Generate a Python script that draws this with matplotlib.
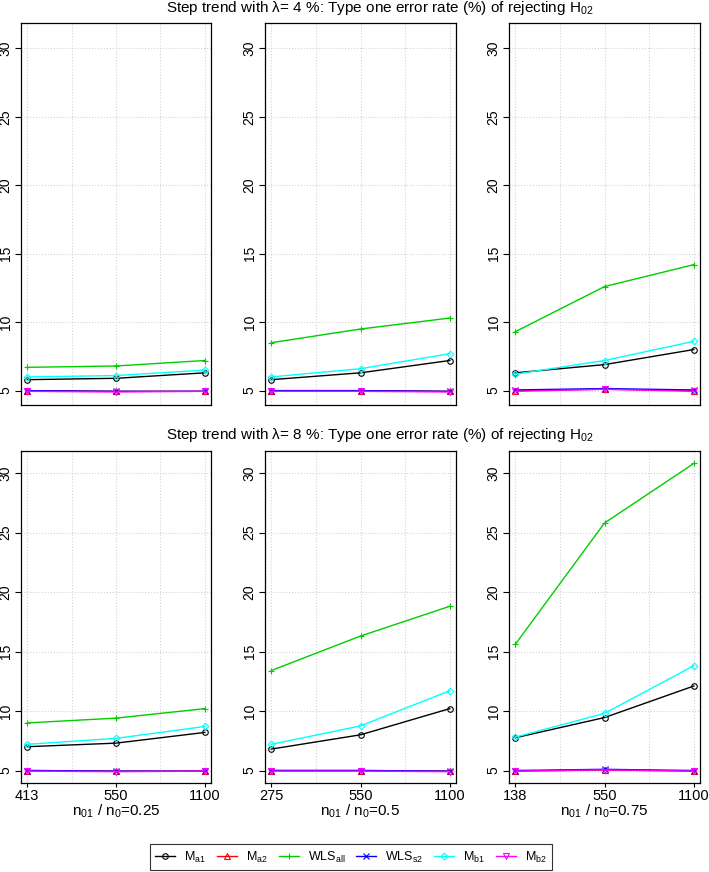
"""
Type one error rate of rejecting H02 under a step trend, two trend sizes x three ratios.
"""
import matplotlib
matplotlib.use("Agg")
import matplotlib.pyplot as plt

plt.rcParams["font.family"] = ["Liberation Sans", "DejaVu Sans"]
plt.rcParams["mathtext.fontset"] = "custom"
plt.rcParams["mathtext.rm"] = "Liberation Sans"
plt.rcParams["mathtext.it"] = "Liberation Sans:italic"
plt.rcParams["mathtext.default"] = "regular"

# methods, in drawing order
methods = ["M$_{a1}$", "M$_{a2}$", "WLS$_{all}$", "WLS$_{s2}$", "M$_{b1}$", "M$_{b2}$"]
colors = ["black", "red", "#00CD00", "blue", "cyan", "magenta"]
markers = ["o", "^", "+", "x", "D", "v"]

ratios = ["0.25", "0.5", "0.75"]
n_labels = [["413", "550", "1100"], ["275", "550", "1100"], ["138", "550", "1100"]]
lambdas = ["4", "8"]

# rows = methods (Ma1, Ma2, WLSall, WLSs2, Mb1, Mb2), cols = sample sizes
lam4_r025 = [[5.8, 5.9, 6.3], [5.0, 4.95, 4.95], [6.7, 6.8, 7.2],
             [5.0, 4.95, 4.95], [6.0, 6.1, 6.5], [4.95, 4.9, 4.95]]
lam4_r050 = [[5.8, 6.3, 7.2], [5.0, 5.0, 4.95], [8.5, 9.5, 10.3],
             [5.0, 5.0, 4.95], [6.0, 6.6, 7.7], [4.95, 4.95, 4.9]]
lam4_r075 = [[6.3, 6.9, 8.0], [5.0, 5.1, 5.0], [9.3, 12.6, 14.2],
             [5.05, 5.15, 5.05], [6.2, 7.2, 8.6], [4.95, 5.1, 4.95]]
lam8_r025 = [[7.0, 7.3, 8.2], [5.0, 4.95, 4.95], [9.0, 9.4, 10.2],
             [5.0, 4.95, 4.95], [7.2, 7.7, 8.7], [4.95, 4.9, 4.95]]
lam8_r050 = [[6.8, 8.0, 10.2], [5.0, 5.0, 4.95], [13.4, 16.3, 18.8],
             [5.0, 5.0, 4.95], [7.2, 8.75, 11.7], [4.95, 4.95, 4.9]]
lam8_r075 = [[7.75, 9.45, 12.1], [4.95, 5.05, 4.95], [15.6, 25.8, 30.8],
             [5.0, 5.1, 5.0], [7.8, 9.8, 13.8], [4.95, 5.05, 4.95]]

panels = [[lam4_r025, lam4_r050, lam4_r075], [lam8_r025, lam8_r050, lam8_r075]]

W, H = 709, 872
fig = plt.figure(figsize=(W / 100, H / 100), dpi=100)

col_x = [(21, 211), (265, 456), (509, 700)]
row_y = [(23, 405), (451, 783)]
title_y = [8, 435]

x = [1, 2, 3]
handles = []
for r in range(2):
    for c in range(3):
        x0, x1 = col_x[c]
        y0, y1 = row_y[r]
        ax = fig.add_axes([x0 / W, 1 - y1 / H, (x1 - x0) / W, (y1 - y0) / H])
        for m, vals in enumerate(panels[r][c]):
            h, = ax.plot(x, vals, color=colors[m], marker=markers[m],
                         markersize=3.4 if markers[m] == "D" else 4.0,
                         markerfacecolor="none", markeredgewidth=0.8,
                         linewidth=1.0, label=methods[m])
            if r == 0 and c == 0:
                handles.append(h)
        ax.set_xlim(0.93, 3.07)
        ax.set_ylim(3.95, 31.85)
        ax.set_yticks([5, 10, 15, 20, 25, 30])
        ax.set_yticklabels(["5", "10", "15", "20", "25", "30"], rotation=90, va="center")
        ax.set_xticks([1, 1.5, 2, 2.5, 3])
        ax.grid(True, color="#d3d3d3", linestyle=":", linewidth=0.8)
        ax.tick_params(axis="y", length=4, width=0.8, labelsize=10, pad=2)
        if r == 1:
            ax.set_xticks([1, 2, 3])
            ax.set_xticks([1.5, 2.5], minor=True)
            ax.grid(True, which="minor", axis="x", color="#d3d3d3", linestyle=":", linewidth=0.8)
            ax.set_xticklabels(n_labels[c])
            ax.tick_params(axis="x", which="major", length=3, width=0.8, labelsize=10.5, pad=1)
            ax.tick_params(axis="x", which="minor", length=0)
            ax.set_xlabel("n$_{01}$ / n$_{0}$=" + ratios[c], fontsize=11, labelpad=0)
        else:
            ax.tick_params(axis="x", length=0, labelbottom=False)
        ax.set_axisbelow(True)
        for s in ax.spines.values():
            s.set_linewidth(0.9)
    fig.text(0.536, 1 - title_y[r] / H,
             "Step trend with λ= " + lambdas[r]
             + " %: Type one error rate (%) of rejecting H$_{02}$",
             ha="center", va="center", fontsize=11)

leg = fig.legend(handles=handles, loc="center", ncol=6,
                 bbox_to_anchor=(351 / W, 1 - 857 / H), fontsize=9,
                 frameon=True, fancybox=False, edgecolor="black",
                 handlelength=1.6, handletextpad=0.7, columnspacing=0.9,
                 borderpad=0.4)
leg.get_frame().set_linewidth(0.8)

fig.savefig("out.png", dpi=100)
